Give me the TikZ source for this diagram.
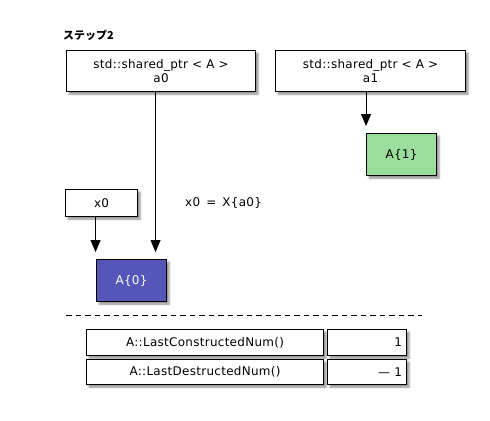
\documentclass[tikz,border=0pt]{standalone}
\usepackage{fontspec}
\setmainfont{DejaVu Sans}[LetterSpace=2.5]
\newfontfamily\jpfont{Noto Sans CJK JP}
\usetikzlibrary{arrows.meta,shadows.blur}
\definecolor{objblue}{RGB}{86,86,184}
\definecolor{objgreen}{RGB}{155,221,155}
\tikzset{
  lbl/.style={font=\fontsize{12}{14}\selectfont},
  box/.style={draw=black, line width=1.1bp, fill=white, inner sep=0pt,
    anchor=north west, align=center, lbl,
    blur shadow={shadow xshift=2.5bp, shadow yshift=-2.5bp,
      shadow blur radius=2bp, shadow opacity=45}},
  ptr/.style={draw=black, line width=1bp,
    -{Triangle[length=12bp,width=10bp]}, shorten >=7bp},
  sep/.style={draw=black, line width=1bp, dash pattern=on 5.5bp off 4bp},
}
\begin{document}
\begin{tikzpicture}[x=1bp,y=-1bp]
  \useasboundingbox (0,0) rectangle (490,420);

  % step caption
  \node[anchor=west, inner sep=0pt, font=\jpfont\bfseries\fontsize{11}{13}\selectfont]
    (title) at (63,35) {ステップ2};

  % shared_ptr handles
  \node[box, minimum width=189bp, minimum height=41bp] (a0) at (66,50)
    {std::shared\_ptr < A >\\a0};
  \node[box, minimum width=190bp, minimum height=41bp] (a1) at (275,50)
    {std::shared\_ptr < A >\\a1};

  % managed objects
  \node[box, fill=objgreen, minimum width=70bp, minimum height=42bp] (A1) at (366,133) {A\{1\}};
  \node[box, minimum width=72bp, minimum height=27bp] (x0) at (65,189) {x0};
  \node[box, fill=objblue, text=white, minimum width=70bp, minimum height=42bp] (A0) at (96,259) {A\{0\}};

  \node[anchor=west, inner sep=0pt, lbl] (note) at (185,203)
    {x0 \,=\, X\{a0\}};

  % references
  \draw[ptr] ([xshift=-5.5bp]a0.south) coordinate (p0) -- (p0 |- A0.north);
  \draw[ptr] ([xshift=-4.5bp]a1.south) coordinate (p1) -- (p1 |- A1.north);
  \draw[ptr] ([xshift=-6bp]x0.south) coordinate (p2) -- (p2 |- A0.north);

  % separator
  \coordinate (sepL) at (66,315);
  \coordinate (sepR) at (422,315);
  \draw[sep] (sepL) -- (sepR);

  % counters
  \node[box, minimum width=237bp, minimum height=26bp] (r1n) at (86,329) {A::LastConstructedNum()};
  \node[box, minimum width=79bp, minimum height=26bp] (r1v) at (327,329) {};
  \node[box, minimum width=237bp, minimum height=25bp] (r2n) at (86,359) {A::LastDestructedNum()};
  \node[box, minimum width=79bp, minimum height=25bp] (r2v) at (327,359) {};
  \node[anchor=east, inner sep=0pt, lbl] (v1) at ([xshift=-5bp]r1v.east) {1};
  \node[anchor=east, inner sep=0pt, lbl] (v2) at ([xshift=-5bp]r2v.east) {— 1};
\end{tikzpicture}
\end{document}
